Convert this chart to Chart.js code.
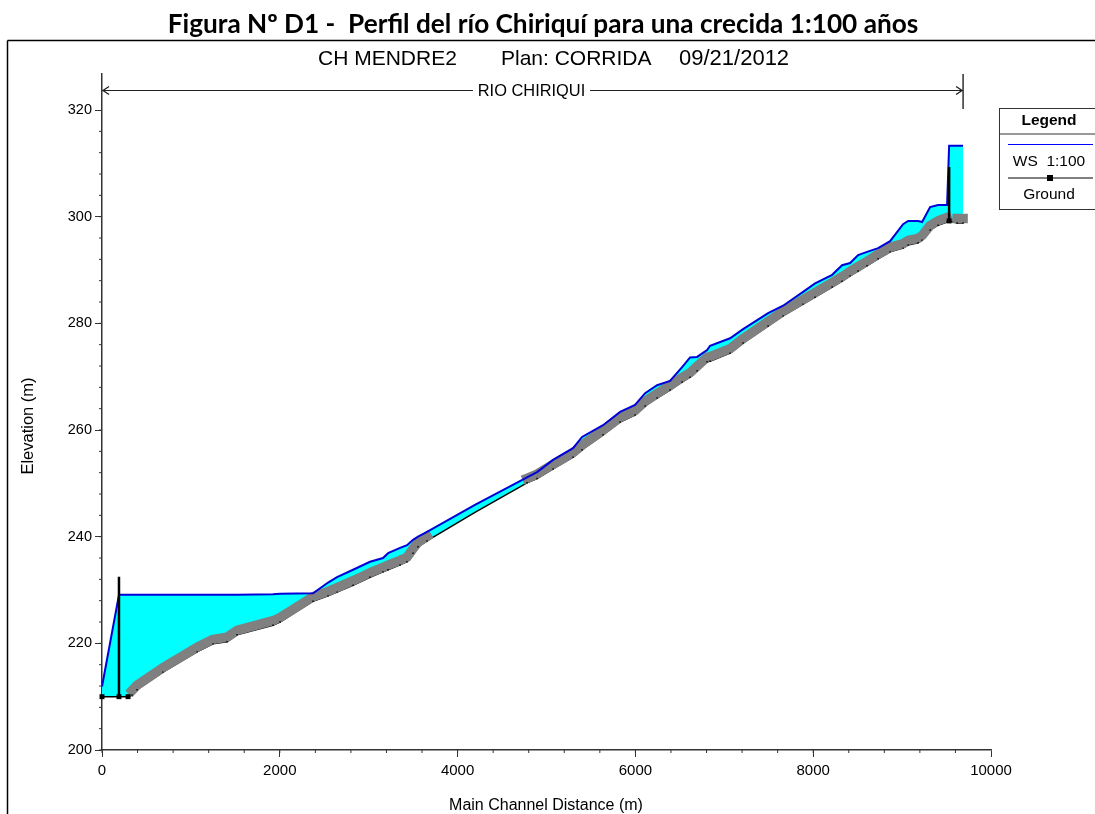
<!DOCTYPE html>
<html>
<head>
<meta charset="utf-8">
<title>Perfil del río Chiriquí</title>
<script src="https://cdn.jsdelivr.net/npm/chart.js@4/dist/chart.umd.min.js"></script>
<style>
  html, body { margin: 0; padding: 0; background: #fff; }
  canvas { display: block; }
</style>
</head>
<body>
<canvas id="perfil" width="1095" height="814"></canvas>
<script>
// valores
const distancias = [0, 191, 293, 338, 394, 686, 1069, 1249, 1406, 1519, 1924, 2003, 2374, 2543, 2644, 2824, 3015, 3161, 3218, 3353, 3431, 3499, 3555, 3656,
  4200, 4781, 4894, 5074, 5299, 5400, 5636, 5828, 5996, 6109, 6244, 6390, 6525, 6615, 6694, 6806, 6840, 7065, 7211, 7493, 7661, 7886, 8021, 8213, 8325, 8415, 8505, 8606, 8730, 8865,
  9011, 9068, 9180, 9225, 9315, 9405, 9506, 9529, 9620, 9686];
const ws100 = [211.9, 229.1, 229.1, 229.1, 229.1, 229.1, 229.1, 229.1, 229.1, 229.1, 229.2, 229.3, 229.4, 231.4, 232.4, 233.8, 235.3, 236.0, 236.9, 237.9, 238.4, 239.4, 240.0, 240.9,
  246.0, 251.1, 252.1, 254.4, 256.6, 258.7, 260.9, 263.4, 264.7, 266.9, 268.4, 269.2, 271.8, 273.6, 273.7, 275.0, 275.8, 277.2, 278.9, 281.9, 283.3, 285.9, 287.5, 289.1, 290.9, 291.3, 292.8, 293.4, 294.1, 295.4,
  298.6, 299.2, 299.2, 299.0, 301.8, 302.2, 302.2, 313.3, 313.3, 313.3];
const terreno = [210, 210, 210, 210.3, 211.3, 214.6, 218.4, 219.9, 220.3, 221.6, 223.4, 224.0, 227.9, 228.9, 229.6, 230.9, 232.4, 233.4, 233.8, 234.7, 235.3, 236.9, 238.1, 239.2,
  244.6, 250.1, 250.9, 252.7, 254.9, 256.3, 259.1, 261.5, 262.8, 264.5, 266.0, 267.5, 269.0, 269.9, 271.1, 272.8, 272.9, 274.4, 276.3, 279.5, 281.4, 283.6, 284.9, 286.8, 287.9, 288.9, 289.8, 290.8, 292.1, 293.4,
  294.1, 294.7, 295.1, 295.6, 297.5, 298.4, 299.0, 299.2, 298.8, 298.8];
// tramos con el rayado gris del terreno
const tramosRayado = [[338, 3656], [4781, 9506], [9620, 9686]];
// estructuras verticales (puente / presa)
const postesX = [191, 9529];
const postesBase = [210, 299.2];
const postesTope = [232.5, 309.3];
const marcasGrandes = [0, 191, 293, 9529];
const ticksX = [0, 2000, 4000, 6000, 8000, 10000];
const ticksY = [200, 220, 240, 260, 280, 300, 320];
const xMenor = 400;
const yMenor = 4;
const rioInicio = 0;
const rioFin = 9686;

const puntos = (ys) => distancias.map((x, i) => ({ x: x, y: ys[i] }));
const rayado = distancias.map((x, i) => ({
  x: x,
  y: tramosRayado.some(t => x >= t[0] && x <= t[1]) ? terreno[i] : null
}));
const postes = [];
postesX.forEach((x, i) => {
  postes.push({ x: x, y: postesBase[i] }, { x: x, y: postesTope[i] }, { x: x, y: null });
});

const FUENTE = '"Liberation Sans", Arial, sans-serif';

function texto(ctx, t, x, y, font, align) {
  ctx.font = font;
  ctx.textAlign = align || 'left';
  ctx.textBaseline = 'alphabetic';
  ctx.fillStyle = '#000';
  ctx.fillText(t, x, y);
}

function linea(ctx, x1, y1, x2, y2, color, w) {
  ctx.beginPath();
  ctx.strokeStyle = color;
  ctx.lineWidth = w;
  ctx.moveTo(x1, y1);
  ctx.lineTo(x2, y2);
  ctx.stroke();
}

// desplaza el rayado hacia arriba del terreno
const rayadoPlugin = {
  id: 'rayadoPlugin',
  beforeDatasetDraw(chart, args) {
    if (args.index === 3) { chart.ctx.save(); chart.ctx.translate(0, -4.5); }
  },
  afterDatasetDraw(chart, args) {
    if (args.index === 3) chart.ctx.restore();
  }
};

const decoracion = {
  id: 'decoracion',
  afterDraw(chart) {
    const ctx = chart.ctx;
    const sx = chart.scales.x, sy = chart.scales.y;
    ctx.save();

    // marco
    linea(ctx, 7.5, 814, 7.5, 40.5, '#000', 1.5);
    linea(ctx, 7.5, 40.5, 1095, 40.5, '#000', 1.5);

    texto(ctx, 'Figura Nº D1 -  Perfil del río Chiriquí para una crecida 1:100 años', 543, 33, 'bold 26.2px Lato, "Open Sans", sans-serif', 'center');
    texto(ctx, 'CH MENDRE2', 318, 65, '21px ' + FUENTE);
    texto(ctx, 'Plan: CORRIDA', 501, 65, '21px ' + FUENTE);
    texto(ctx, '09/21/2012', 679, 65, '22px ' + FUENTE);

    // ticks menores
    for (let v = 0; v < sx.max; v += xMenor) {
      const p = sx.getPixelForValue(v);
      linea(ctx, p, sy.bottom, p, sy.bottom + 3, '#333', 1);
    }
    for (let v = 200; v < 320; v += yMenor) {
      const p = sy.getPixelForValue(v);
      linea(ctx, sx.left, p, sx.left - 3, p, '#333', 1);
    }

    // rotulo del rio
    const yRio = 90.5;
    const x0 = sx.getPixelForValue(rioInicio), x1 = sx.getPixelForValue(rioFin);
    linea(ctx, x0, yRio, 473, yRio, '#222', 1.2);
    linea(ctx, 590, yRio, x1, yRio, '#222', 1.2);
    linea(ctx, x1, 74, x1, 109, '#222', 1.4);
    linea(ctx, x0 + 7, yRio - 4, x0 + 1, yRio, '#222', 1.4);
    linea(ctx, x0 + 7, yRio + 4, x0 + 1, yRio, '#222', 1.4);
    linea(ctx, x1 - 7, yRio - 4, x1 - 1, yRio, '#222', 1.4);
    linea(ctx, x1 - 7, yRio + 4, x1 - 1, yRio, '#222', 1.4);
    texto(ctx, 'RIO CHIRIQUI', 531.5, 96, '16.4px ' + FUENTE, 'center');

    // titulos de ejes
    texto(ctx, 'Main Channel Distance (m)', 546, 810, '16px ' + FUENTE, 'center');
    ctx.save();
    ctx.translate(33, 426);
    ctx.rotate(-Math.PI / 2);
    texto(ctx, 'Elevation (m)', 0, 0, '16.5px ' + FUENTE, 'center');
    ctx.restore();

    // leyenda
    ctx.strokeStyle = '#333';
    ctx.lineWidth = 1;
    ctx.strokeRect(999.5, 108.5, 110, 101);
    linea(ctx, 999, 134, 1095, 134, '#333', 1);
    texto(ctx, 'Legend', 1049, 125, 'bold 15.5px ' + FUENTE, 'center');
    linea(ctx, 1008, 144.5, 1093, 144.5, '#0000ff', 1.2);
    texto(ctx, chart.data.datasets[2].label, 1049, 166, '15.5px ' + FUENTE, 'center');
    linea(ctx, 1008, 178, 1093, 178, '#000', 1.2);
    ctx.fillStyle = '#000';
    ctx.fillRect(1047, 175, 6, 6);
    texto(ctx, chart.data.datasets[4].label, 1049, 199, '15.5px ' + FUENTE, 'center');

    ctx.restore();
  }
};

new Chart(document.getElementById('perfil'), {
  type: 'line',
  data: {
    datasets: [
      { label: 'Estructuras', data: postes, borderColor: '#000', borderWidth: 2.5, pointRadius: 0, spanGaps: false, clip: false },
      {
        label: 'Secciones', data: puntos(terreno), showLine: false, pointStyle: 'rect',
        backgroundColor: '#000', borderColor: '#000', borderWidth: 0, clip: false,
        pointRadius: (c) => marcasGrandes.includes(c.raw.x) ? 3.5 : (c.raw.x === 4200 ? 0 : 1)
      },
      { label: 'WS  1:100', data: puntos(ws100), borderColor: '#0000d8', borderWidth: 2, pointRadius: 0, fill: 4, backgroundColor: '#00ffff' },
      { label: 'Rayado', data: rayado, borderColor: '#808080', borderWidth: 9.5, pointRadius: 0, spanGaps: false, borderCapStyle: 'square', borderJoinStyle: 'round', clip: false },
      { label: 'Ground', data: puntos(terreno), borderColor: '#000', borderWidth: 1.5, pointRadius: 0 }
    ]
  },
  options: {
    responsive: false,
    animation: false,
    elements: { line: { tension: 0 } },
    layout: { padding: { top: 74, right: 104, left: 0, bottom: 0 } },
    plugins: {
      legend: { display: false },
      title: { display: false },
      tooltip: { enabled: false },
      filler: { drawTime: 'beforeDatasetsDraw', propagate: false }
    },
    scales: {
      x: {
        type: 'linear',
        min: 0,
        max: 10000,
        afterFit(s) { s.height = 64; },
        afterBuildTicks(s) { s.ticks = ticksX.map(v => ({ value: v })); },
        grid: { drawOnChartArea: false, drawTicks: true, tickLength: 7, tickColor: '#333' },
        border: { color: '#333', width: 1.5 },
        ticks: { color: '#000', maxRotation: 0, padding: 5, callback: (v) => String(v), font: { family: FUENTE, size: 15 } }
      },
      y: {
        type: 'linear',
        min: 200,
        max: 326.75,
        afterFit(s) { s.width = 102; },
        afterBuildTicks(s) { s.ticks = ticksY.map(v => ({ value: v })); },
        grid: { drawOnChartArea: false, drawTicks: true, tickLength: 7, tickColor: '#333' },
        border: { color: '#333', width: 1.5 },
        ticks: { color: '#000', padding: 3, callback: (v) => String(v), font: { family: FUENTE, size: 14.5 } }
      }
    }
  },
  plugins: [rayadoPlugin, decoracion]
});
</script>
</body>
</html>
